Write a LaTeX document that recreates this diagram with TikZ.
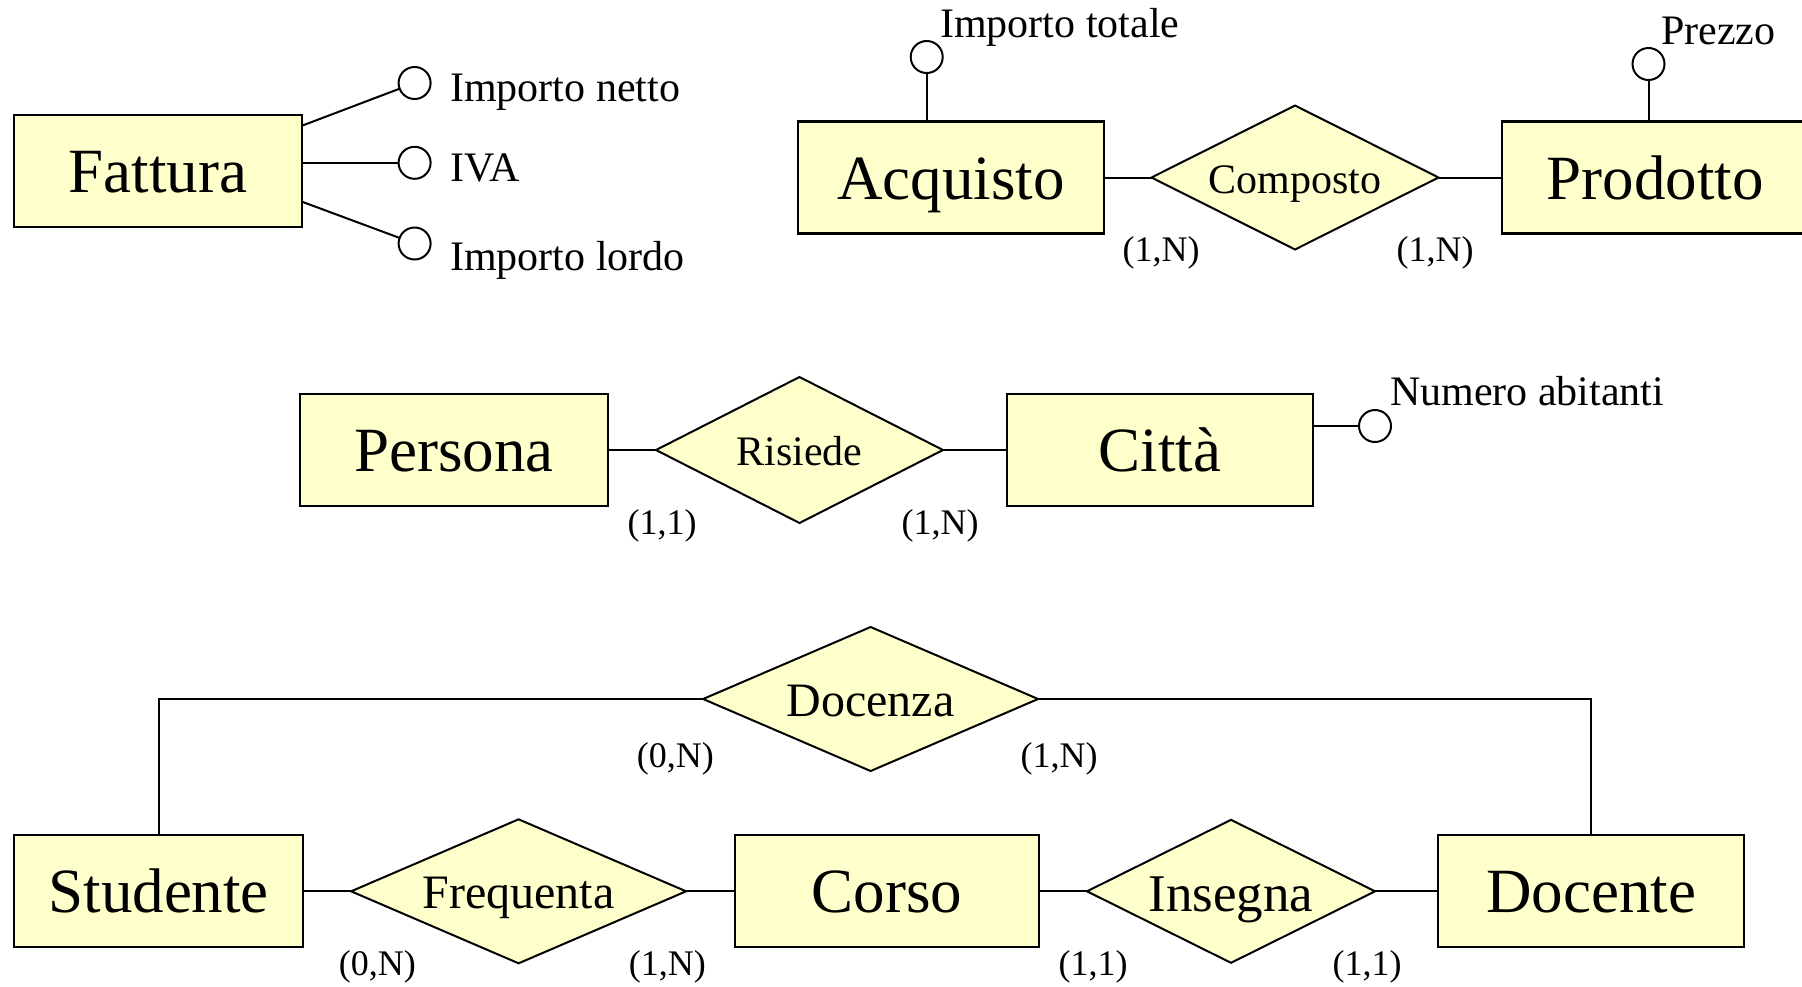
\documentclass[tikz,border=0pt]{standalone}
\usepackage{fontspec}
\setmainfont{Liberation Serif}
\usetikzlibrary{shapes.geometric}
\definecolor{erfill}{HTML}{FFFFCC}
\tikzset{
  entity/.style={draw, fill=erfill, line width=2.2pt, inner sep=0pt, outer sep=0pt,
    minimum height=112pt, font=\fontsize{63}{70}\selectfont, text height=43pt, text depth=0pt},
  relation/.style={draw, fill=erfill, shape=diamond, shape aspect=2, line width=2pt,
    inner sep=0pt, outer sep=0pt, text depth=0pt},
  relsmall/.style={relation, font=\fontsize{42}{48}\selectfont, text height=31pt},
  relmid/.style={relation, shape aspect=2.3, font=\fontsize{48}{54}\selectfont, text height=34pt},
  rellarge/.style={relation, font=\fontsize{53}{60}\selectfont, text height=41pt},
  attr/.style={draw, fill=white, circle, line width=2pt, minimum size=32pt, inner sep=0pt, outer sep=0pt},
  attrlabel/.style={anchor=base west, inner sep=0pt, font=\fontsize{42}{48}\selectfont},
  card/.style={inner sep=0pt, font=\fontsize{36}{40}\selectfont},
  link/.style={line width=2pt},
}
\begin{document}
\begin{tikzpicture}[x=1pt, y=-1pt]
\useasboundingbox (0,0) rectangle (1802,986);
\clip (0,0) rectangle (1802,986);

% --- Fattura with its attributes
\node[entity, minimum width=288pt] (fattura) at (158,171) {Fattura};
\node[attr] (netto) at (414.6,83) {};
\node[attr] (iva) at (414.6,162.8) {};
\node[attr] (lordo) at (414.6,243.5) {};
\node[attrlabel] (lnetto) at (450,101.7) {Importo netto};
\node[attrlabel] (liva) at (450,181.7) {IVA};
\node[attrlabel] (llordo) at (450,270) {Importo lordo};
\draw[link] ([yshift=45.3pt]fattura.east) -- (netto);
\draw[link] (fattura.east |- iva) -- (iva);
\draw[link] ([yshift=-30.7pt]fattura.east) -- (lordo);

% --- Acquisto - Composto - Prodotto
\node[entity, minimum width=306pt] (acquisto) at (951,177.5) {Acquisto};
\node[relsmall, minimum width=287pt, minimum height=144pt] (composto) at (1295,177.5) {Composto};
\node[entity, minimum width=306pt] (prodotto) at (1655,177.5) {Prodotto};
\node[attr] (totale) at (926.7,57) {};
\node[attrlabel] (ltotale) at (940,37.7) {Importo totale};
\node[attr] (prezzo) at (1648.5,64) {};
\node[attrlabel] (lprezzo) at (1661,44) {Prezzo};
\draw[link] (totale) -- (totale |- acquisto.north);
\draw[link] (prezzo) -- (prezzo |- prodotto.north);
\draw[link] (acquisto.east) -- (composto.west);
\draw[link] (composto.east) -- (prodotto.west);
\node[card] (c1) at (1161,253) {(1,N)};
\node[card] (c2) at (1435,253) {(1,N)};

% --- Persona - Risiede - Citta
\node[entity, minimum width=308pt] (persona) at (454,450) {Persona};
\node[relsmall, minimum width=287pt, minimum height=146pt] (risiede) at (799.5,450) {Risiede};
\node[entity, minimum width=306pt] (citta) at (1160,450) {Città};
\node[attr] (abitanti) at (1375,426) {};
\node[attrlabel] (labitanti) at (1390,405) {Numero abitanti};
\draw[link] (citta.east |- abitanti) -- (abitanti);
\draw[link] (persona.east) -- (risiede.west);
\draw[link] (risiede.east) -- (citta.west);
\node[card] (c3) at (662,526) {(1,1)};
\node[card] (c4) at (940,526) {(1,N)};

% --- Studente, Corso, Docente
\node[entity, minimum width=289pt] (studente) at (158.7,891.3) {Studente};
\node[relmid, minimum width=335pt, minimum height=144pt] (frequenta) at (518.6,891.3) {Frequenta};
\node[entity, minimum width=304pt] (corso) at (887,891.3) {Corso};
\node[rellarge, minimum width=288pt, minimum height=143pt] (insegna) at (1231,891.3) {Insegna};
\node[entity, minimum width=306pt] (docente) at (1591,891.3) {Docente};
\node[relmid, minimum width=335pt, minimum height=144pt] (docenza) at (870.6,699) {Docenza};
\draw[link] (studente.east) -- (frequenta.west);
\draw[link] (frequenta.east) -- (corso.west);
\draw[link] (corso.east) -- (insegna.west);
\draw[link] (insegna.east) -- (docente.west);
\draw[link] (studente.north) |- (docenza.west);
\draw[link] (docenza.east) -| (docente.north);
\node[card] (c5) at (675.4,759) {(0,N)};
\node[card] (c6) at (1059,759) {(1,N)};
\node[card] (c7) at (377.4,967) {(0,N)};
\node[card] (c8) at (667.4,967) {(1,N)};
\node[card] (c9) at (1093,967) {(1,1)};
\node[card] (c10) at (1367,967) {(1,1)};
\end{tikzpicture}
\end{document}
